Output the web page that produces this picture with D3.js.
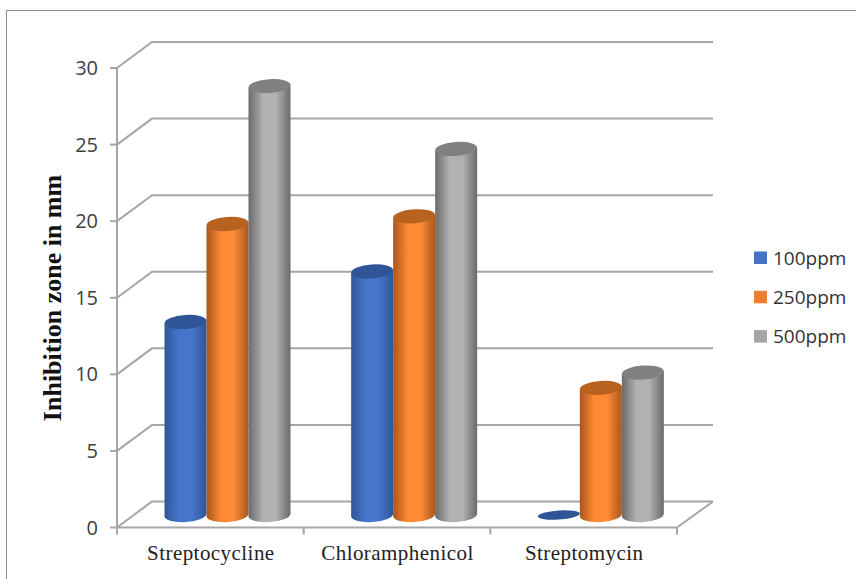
<!DOCTYPE html>
<html>
<head>
<meta charset="utf-8">
<script src="https://cdn.jsdelivr.net/npm/d3@7"></script>
<style>
html, body { margin: 0; padding: 0; background: #fff; }
svg { display: block; }
</style>
</head>
<body>
<div id="chart"></div>
<script>
// chart data
const categories = ["Streptocycline", "Chloramphenicol", "Streptomycin"];
const seriesNames = ["100ppm", "250ppm", "500ppm"];
const values100 = [12.6, 15.9, 0];
const values250 = [19.0, 19.5, 8.3];
const values500 = [28.0, 23.9, 9.3];
const yTicks = [0, 5, 10, 15, 20, 25, 30];

const seriesValues = [values100, values250, values500];
const legendColors = ["#4472c4", "#ed7d31", "#a5a5a5"];
// edge, middle, top cap
const cylinderColors = [
    { edge: "#2f5597", mid: "#4676cb", cap: "#2f5597" },
    { edge: "#a9561d", mid: "#ff8a35", cap: "#b8621f" },
    { edge: "#6a6a6a", mid: "#b2b2b2", cap: "#808080" }
];

const width = 856, height = 579;
const depthX = 35, depthY = -26;   // front plane -> back wall
const gridColor = "#a6a6a6";

const svg = d3.select("#chart").append("svg")
    .attr("width", width)
    .attr("height", height);

// outer frame
svg.append("path")
    .attr("d", "M6.5,579V10.5H856")
    .attr("fill", "none")
    .attr("stroke", "#8c8c8c");

const x = d3.scaleBand().domain(categories).range([117, 677]);
const inner = d3.scaleBand().domain(seriesNames)
    .range([47.5, 47.5 + 42 * 3]);
const y = d3.scaleLinear().domain([0, 30]).range([527.5, 68]);

// gradients for the cylinders
const defs = svg.append("defs");
seriesNames.forEach((s, i) => {
    const c = cylinderColors[i];
    const g = defs.append("linearGradient").attr("id", "cyl" + i);
    g.append("stop").attr("offset", "0%").attr("stop-color", c.edge);
    g.append("stop").attr("offset", "35%").attr("stop-color", c.mid);
    g.append("stop").attr("offset", "65%").attr("stop-color", c.mid);
    g.append("stop").attr("offset", "100%").attr("stop-color", c.edge);
});

// gridlines on the side and back walls
const grid = svg.append("g").attr("fill", "none").attr("stroke", gridColor).attr("stroke-width", 2);
yTicks.forEach(t => {
    grid.append("path")
        .attr("d", d3.line()([
            [x.range()[0], y(t)],
            [x.range()[0] + depthX, y(t) + depthY],
            [x.range()[1] + depthX + 1, y(t) + depthY]
        ]));
});

// floor edge on the right
grid.append("path").attr("d", d3.line()([
    [x.range()[1], y(0)],
    [x.range()[1] + depthX + 1, y(0) + depthY]
]));

// y axis
const yAxis = svg.append("g").attr("stroke", gridColor).attr("stroke-width", 2).attr("fill", "none");
yAxis.append("line")
    .attr("x1", x.range()[0]).attr("x2", x.range()[0])
    .attr("y1", y(0)).attr("y2", y(30));
yTicks.forEach(t => {
    yAxis.append("line")
        .attr("x1", x.range()[0] - 7).attr("x2", x.range()[0])
        .attr("y1", y(t)).attr("y2", y(t));
});
svg.append("g").selectAll("text")
    .data(yTicks)
    .join("text")
    .attr("x", 98)
    .attr("y", d => y(d) + 7)
    .attr("text-anchor", "end")
    .attr("font-family", "'Open Sans', sans-serif")
    .attr("font-size", 20)
    .attr("fill", "#404040")
    .text(d => d);

// x axis
const xAxis = svg.append("g").attr("stroke", gridColor).attr("stroke-width", 2);
xAxis.append("line")
    .attr("x1", x.range()[0]).attr("x2", x.range()[1])
    .attr("y1", y(0)).attr("y2", y(0));
categories.concat([null]).forEach(c => {
    const px = c ? x(c) : x.range()[1];
    xAxis.append("line")
        .attr("x1", px).attr("x2", px)
        .attr("y1", y(0)).attr("y2", y(0) + 7);
});
svg.append("g").selectAll("text")
    .data(categories)
    .join("text")
    .attr("x", d => x(d) + x.bandwidth() / 2 + 0.5)
    .attr("y", 560)
    .attr("text-anchor", "middle")
    .attr("font-family", "'Liberation Serif', serif")
    .attr("font-size", 21)
    .attr("letter-spacing", 0.45)
    .attr("fill", "#222")
    .text(d => d);

// y axis title
svg.append("text")
    .attr("transform", "translate(61,298) rotate(-90)")
    .attr("text-anchor", "middle")
    .attr("font-family", "'Liberation Serif', serif")
    .attr("font-weight", "bold")
    .attr("font-size", 26)
    .attr("fill", "#111")
    .text("Inhibition zone in mm");

// cylinders, slightly tilted like the 3d original
const barBase = -12.5;
const rx = inner.bandwidth() / 2;
const ry = 7;
const tilt = -4;
const lift = 1.5;
const barData = categories.flatMap((c, ci) =>
    seriesNames.map((s, si) => ({ c, s, si, v: seriesValues[si][ci] })));

const bars = svg.append("g").selectAll("g")
    .data(barData)
    .join("g");

bars.each(function (d) {
    const g = d3.select(this);
    const left = x(d.c) + inner(d.s);
    const cx = left + rx;
    const yBase = y(0) + barBase;
    const yTop = y(d.v) + barBase;
    if (d.v > 0) {
        g.append("path")
            .attr("d", `M${left},${yTop + lift}V${yBase + lift}A${rx},${ry} ${tilt} 0 0 ${left + 2 * rx},${yBase - lift}V${yTop - lift}Z`)
            .attr("fill", `url(#cyl${d.si})`);
    }
    g.append("ellipse")
        .attr("cx", cx).attr("cy", yTop)
        .attr("rx", rx).attr("ry", d.v > 0 ? ry : 4.5)
        .attr("transform", `rotate(${tilt} ${cx} ${yTop})`)
        .attr("fill", cylinderColors[d.si].cap);
});

// legend
const legend = svg.append("g").selectAll("g")
    .data(seriesNames)
    .join("g")
    .attr("transform", (d, i) => `translate(754,${251.5 + i * 39.3})`);
legend.append("rect")
    .attr("width", 13).attr("height", 12.5)
    .attr("fill", (d, i) => legendColors[i]);
legend.append("text")
    .attr("x", 19).attr("y", 13)
    .attr("font-family", "'Open Sans', sans-serif")
    .attr("font-size", 19)
    .attr("fill", "#333")
    .text(d => d);
</script>
</body>
</html>
